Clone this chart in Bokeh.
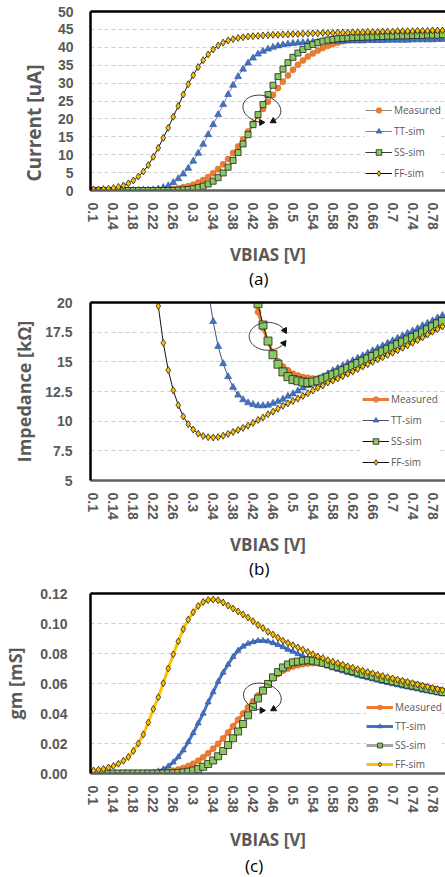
import math
from bokeh.plotting import figure
from bokeh.layouts import column
from bokeh.models import Range1d, FixedTicker, Legend, LegendItem, Title, LinearAxis, Div
from bokeh.embed import file_html
from bokeh.resources import INLINE

nan = float("nan")

# ---------------- data ----------------
vbias = [0.10, 0.11, 0.12, 0.13, 0.14, 0.15, 0.16, 0.17, 0.18, 0.19,
         0.20, 0.21, 0.22, 0.23, 0.24, 0.25, 0.26, 0.27, 0.28, 0.29,
         0.30, 0.31, 0.32, 0.33, 0.34, 0.35, 0.36, 0.37, 0.38, 0.39,
         0.40, 0.41, 0.42, 0.43, 0.44, 0.45, 0.46, 0.47, 0.48, 0.49,
         0.50, 0.51, 0.52, 0.53, 0.54, 0.55, 0.56, 0.57, 0.58, 0.59,
         0.60, 0.61, 0.62, 0.63, 0.64, 0.65, 0.66, 0.67, 0.68, 0.69,
         0.70, 0.71, 0.72, 0.73, 0.74, 0.75, 0.76, 0.77, 0.78, 0.79,
         0.80]

xtick_values = [0.1, 0.14, 0.18, 0.22, 0.26, 0.3, 0.34, 0.38, 0.42, 0.46,
                0.5, 0.54, 0.58, 0.62, 0.66, 0.7, 0.74, 0.78]
xtick_labels = ["0.1", "0.14", "0.18", "0.22", "0.26", "0.3", "0.34", "0.38", "0.42", "0.46",
                "0.5", "0.54", "0.58", "0.62", "0.66", "0.7", "0.74", "0.78"]

series_names = ["Measured", "TT-sim", "SS-sim", "FF-sim"]

# (a) current [uA]
meas_I = [0.0, 0.0, 0.0, 0.0, 0.0, 0.0, 0.0, 0.0, 0.0, 0.0,
          0.1, 0.1, 0.1, 0.2, 0.2, 0.3, 0.4, 0.6, 0.9, 1.2,
          1.6, 2.2, 2.9, 3.8, 4.8, 6.0, 7.3, 8.8, 10.5, 12.3,
          14.3, 16.5, 18.7, 20.8, 22.8, 24.8, 26.7, 28.6, 30.4, 32.1,
          33.7, 35.1, 36.3, 37.4, 38.3, 39.1, 39.8, 40.4, 40.9, 41.3,
          41.7, 42.0, 42.3, 42.5, 42.7, 42.9, 43.0, 43.2, 43.3, 43.4,
          43.5, 43.6, 43.7, 43.8, 43.9, 43.9, 44.0, 44.1, 44.1, 44.2,
          44.3]
tt_I = [0.0, 0.0, 0.0, 0.0, 0.0, 0.0, 0.0, 0.0, 0.0, 0.0,
        0.1, 0.1, 0.2, 0.4, 0.8, 1.3, 2.2, 3.3, 4.6, 6.2,
        8.2, 10.4, 12.9, 15.6, 18.4, 21.2, 24.0, 26.8, 29.4, 31.8,
        33.9, 35.6, 37.0, 38.1, 38.9, 39.5, 40.0, 40.4, 40.7, 40.9,
        41.1, 41.2, 41.3, 41.4, 41.5, 41.5, 41.6, 41.6, 41.7, 41.7,
        41.7, 41.8, 41.8, 41.8, 41.8, 41.9, 41.9, 41.9, 41.9, 42.0,
        42.0, 42.0, 42.0, 42.0, 42.1, 42.1, 42.1, 42.1, 42.1, 42.2,
        42.2]
ss_I = [0.0, 0.0, 0.0, 0.0, 0.0, 0.0, 0.0, 0.0, 0.0, 0.0,
        0.0, 0.0, 0.0, 0.0, 0.0, 0.0, 0.0, 0.1, 0.2, 0.3,
        0.5, 0.8, 1.2, 1.8, 2.6, 3.6, 4.9, 6.5, 8.4, 10.6,
        13.0, 15.6, 18.4, 21.2, 24.0, 26.8, 29.4, 31.8, 33.9, 35.7,
        37.2, 38.4, 39.4, 40.2, 40.8, 41.3, 41.7, 42.0, 42.2, 42.4,
        42.5, 42.6, 42.7, 42.8, 42.8, 42.9, 42.9, 43.0, 43.0, 43.1,
        43.1, 43.2, 43.2, 43.2, 43.3, 43.3, 43.3, 43.4, 43.4, 43.4,
        43.5]
ff_I = [0.3, 0.3, 0.4, 0.5, 0.7, 1.0, 1.4, 2.0, 2.8, 3.9,
        5.3, 7.1, 9.4, 11.9, 14.7, 17.5, 20.6, 23.6, 26.8, 29.7,
        32.2, 34.5, 36.4, 38.0, 39.4, 40.5, 41.3, 41.9, 42.3, 42.6,
        42.8, 43.0, 43.1, 43.2, 43.3, 43.4, 43.5, 43.5, 43.6, 43.6,
        43.7, 43.7, 43.8, 43.8, 43.9, 43.9, 44.0, 44.0, 44.0, 44.1,
        44.1, 44.1, 44.2, 44.2, 44.2, 44.3, 44.3, 44.3, 44.4, 44.4,
        44.4, 44.5, 44.5, 44.5, 44.5, 44.6, 44.6, 44.6, 44.7, 44.7,
        44.7]

# (b) impedance [kOhm]  (nan = off the top of the chart)
meas_Z = [nan] * 32 + [
    20.8, 19.2, 17.85, 16.7, 15.75, 15.05, 14.6, 14.3,
    14.0, 13.85, 13.72, 13.65, 13.6, 13.6, 13.65, 13.75, 13.85, 14.0,
    14.15, 14.35, 14.55, 14.75, 14.95, 15.15, 15.35, 15.55, 15.75, 15.95,
    16.1, 16.3, 16.5, 16.7, 16.9, 17.1, 17.3, 17.5, 17.75, 17.95,
    18.2]
tt_Z = [nan] * 23 + [
    21.0, 18.4, 16.3, 14.85, 13.75, 12.85, 12.2,
    11.8, 11.55, 11.4, 11.3, 11.3, 11.35, 11.5, 11.65, 11.85, 12.1,
    12.3, 12.55, 12.8, 13.0, 13.25, 13.5, 13.75, 14.0, 14.25, 14.46,
    14.67, 14.88, 15.09, 15.3, 15.51, 15.72, 15.93, 16.14, 16.35, 16.56,
    16.77, 16.98, 17.2, 17.4, 17.6, 17.8, 18.05, 18.25, 18.45, 18.7,
    18.9]
ss_Z = [nan] * 32 + [
    22.5, 19.9, 18.1, 16.75, 15.6, 14.8, 14.15, 13.75,
    13.5, 13.4, 13.3, 13.25, 13.3, 13.4, 13.55, 13.7, 13.9, 14.05,
    14.25, 14.45, 14.65, 14.85, 15.05, 15.25, 15.45, 15.65, 15.85, 16.05,
    16.25, 16.45, 16.65, 16.85, 17.05, 17.25, 17.45, 17.7, 17.95, 18.2,
    18.4]
ff_Z = [nan] * 12 + [
    23.3, 19.7, 16.6, 14.3, 12.6, 11.35, 10.4, 9.75,
    9.3, 8.95, 8.75, 8.65, 8.62, 8.66, 8.77, 8.93, 9.09, 9.26,
    9.43, 9.62, 9.85, 10.1, 10.3, 10.58, 10.8, 11.05, 11.3, 11.5,
    11.7, 11.9, 12.12, 12.35, 12.58, 12.82, 13.0, 13.25, 13.42, 13.6,
    13.8, 14.0, 14.18, 14.39, 14.6, 14.8, 15.0, 15.2, 15.38, 15.58,
    15.77, 15.97, 16.18, 16.39, 16.61, 16.83, 17.06, 17.3, 17.54, 17.76,
    17.98]

# (c) gm [mS]
meas_gm = [0.0, 0.0, 0.0, 0.0001, 0.0001, 0.0001, 0.0001, 0.0001, 0.0002, 0.0002,
           0.0002, 0.0003, 0.0004, 0.0006, 0.0009, 0.0013, 0.0019, 0.0027, 0.0037, 0.005,
           0.0065, 0.0085, 0.0108, 0.0135, 0.0165, 0.0198, 0.0234, 0.0273, 0.0315, 0.0358,
           0.040, 0.0441, 0.0481, 0.052, 0.056, 0.0598, 0.0635, 0.0664, 0.0685, 0.070,
           0.0713, 0.0722, 0.0729, 0.0733, 0.0735, 0.0735, 0.0733, 0.0727, 0.0722, 0.0714,
           0.0707, 0.0697, 0.0687, 0.0678, 0.0669, 0.066, 0.0651, 0.0643, 0.0635, 0.0627,
           0.0621, 0.0613, 0.0606, 0.0599, 0.0592, 0.0585, 0.0578, 0.0571, 0.0563, 0.0557,
           0.0549]
tt_gm = [0.0, 0.0, 0.0, 0.0, 0.0, 0.0, 0.0, 0.0, 0.0, 0.0,
         0.0, 0.0003, 0.0007, 0.0015, 0.0028, 0.0048, 0.0075, 0.011, 0.0155, 0.021,
         0.027, 0.0335, 0.040, 0.0475, 0.0543, 0.0613, 0.0673, 0.0727, 0.0778, 0.082,
         0.0847, 0.0866, 0.0877, 0.0885, 0.0885, 0.0881, 0.087, 0.0858, 0.0844, 0.0826,
         0.0813, 0.0797, 0.0781, 0.0769, 0.0755, 0.0741, 0.0727, 0.0714, 0.0702, 0.0692,
         0.0682, 0.0672, 0.0663, 0.0654, 0.0645, 0.0636, 0.0628, 0.062, 0.0612, 0.0604,
         0.0596, 0.0589, 0.0581, 0.0575, 0.0568, 0.0562, 0.0554, 0.0548, 0.0542, 0.0535,
         0.0529]
ss_gm = [0.0, 0.0, 0.0, 0.0, 0.0, 0.0, 0.0, 0.0, 0.0, 0.0,
         0.0, 0.0, 0.0, 0.0, 0.0, 0.0001, 0.0002, 0.0004, 0.0007, 0.0012,
         0.002, 0.003, 0.0045, 0.0063, 0.0087, 0.0115, 0.015, 0.019, 0.0235, 0.028,
         0.033, 0.0388, 0.0444, 0.050, 0.0552, 0.0597, 0.0641, 0.0676, 0.0707, 0.0727,
         0.0741, 0.0746, 0.0752, 0.0755, 0.0752, 0.0746, 0.0738, 0.073, 0.0719, 0.0712,
         0.0702, 0.0692, 0.0683, 0.0673, 0.0664, 0.0656, 0.0647, 0.0639, 0.0631, 0.0623,
         0.0615, 0.0608, 0.0601, 0.0593, 0.0587, 0.058, 0.0573, 0.0565, 0.0557, 0.055,
         0.0543]
ff_gm = [0.002, 0.0025, 0.003, 0.004, 0.005, 0.0065, 0.0085, 0.011, 0.015, 0.020,
         0.026, 0.034, 0.043, 0.0508, 0.0602, 0.070, 0.0794, 0.0881, 0.0962, 0.1026,
         0.1075, 0.1117, 0.1143, 0.1156, 0.116, 0.1155, 0.114, 0.112, 0.110, 0.108,
         0.106, 0.104, 0.1015, 0.099, 0.097, 0.0945, 0.0926, 0.0905, 0.0885, 0.087,
         0.0855, 0.084, 0.0825, 0.081, 0.0795, 0.078, 0.0769, 0.0755, 0.0745, 0.0735,
         0.0725, 0.0714, 0.0705, 0.0695, 0.0685, 0.0676, 0.0667, 0.0658, 0.065, 0.0642,
         0.0634, 0.0626, 0.0618, 0.061, 0.0602, 0.0594, 0.0586, 0.0578, 0.057, 0.0563,
         0.0556]

ya_ticks = [0, 5, 10, 15, 20, 25, 30, 35, 40, 45, 50]
ya_labels = ["0", "5", "10", "15", "20", "25", "30", "35", "40", "45", "50"]
yb_ticks = [5, 7.5, 10, 12.5, 15, 17.5, 20]
yb_labels = ["5", "7.5", "10", "12.5", "15", "17.5", "20"]
yc_ticks = [0.0, 0.02, 0.04, 0.06, 0.08, 0.10, 0.12]
yc_labels = ["0.00", "0.02", "0.04", "0.06", "0.08", "0.10", "0.12"]

# ---------------- styling ----------------
GREY = "#595959"
TICK_FONT = "Liberation Sans"
TITLE_FONT = "Open Sans"
XR = (0.094, 0.806)
FIG_W = 445

ORANGE = "#ED7D31"
BLUE = "#4472C4"
GREEN = "#8BC860"
YELLOW = "#FFC000"

MARKERS = [
    dict(marker="circle", fill_color=ORANGE, line_color="#D8691F", line_width=0.6),
    dict(marker="triangle", fill_color=BLUE, line_color="#2F5597", line_width=0.6),
    dict(marker="square", fill_color=GREEN, line_color="#222222", line_width=0.8),
    dict(marker="diamond", fill_color=YELLOW, line_color="#222222", line_width=0.8),
]


def add_loop(p, ylim, frame_w, frame_h, c, rx, ry, tilt_deg, t0, t1, heads):
    """Curved double-headed arrow drawn around centre c (data units); radii in px."""
    kx = frame_w / (XR[1] - XR[0])
    ky = frame_h / (ylim[1] - ylim[0])
    ph = math.radians(tilt_deg)
    n = 48
    xs, ys = [], []
    for i in range(n + 1):
        t = math.radians(t0 + (t1 - t0) * i / n)
        dx = rx * math.cos(t) * math.cos(ph) - ry * math.sin(t) * math.sin(ph)
        dy = rx * math.cos(t) * math.sin(ph) + ry * math.sin(t) * math.cos(ph)
        xs.append(c[0] + dx / kx)
        ys.append(c[1] + dy / ky)
    p.line(xs, ys, line_color="#3A3A3A", line_width=1)
    ends = [(xs[-1], ys[-1]), (xs[0], ys[0])]
    for (hx, hy), dirdeg in zip(ends, heads):
        p.scatter(x=[hx], y=[hy], marker="triangle", size=6,
                  angle=math.radians(dirdeg - 90),
                  fill_color="#111111", line_color="#111111")


def make_panel(height, top, left, bottom, ylim, yticks, ylabels, lab_standoff,
               ytitle, ytitle_size, ytitle_mode, ytitle_pos, vb_standoff,
               ys, lines, sizes, legend_loc, leg_h, leg_sp, loop):
    p = figure(width=FIG_W, height=height, output_backend="svg", toolbar_location=None,
               x_range=Range1d(*XR), y_range=Range1d(*ylim),
               min_border_top=top, min_border_left=left, min_border_right=0,
               min_border_bottom=bottom)
    p.outline_line_color = None
    p.background_fill_color = "white"
    p.border_fill_color = "white"
    p.xgrid.visible = False
    p.ygrid.grid_line_color = "#D0D0D0"
    p.ygrid.grid_line_dash = "4 3"
    p.ygrid.grid_line_width = 1

    xa = p.xaxis[0]
    xa.ticker = FixedTicker(ticks=xtick_values)
    xa.major_label_overrides = dict(zip(xtick_values, xtick_labels))
    xa.major_label_orientation = "vertical"
    xa.major_tick_line_color = None
    xa.minor_tick_line_color = None
    xa.major_label_standoff = 6
    xa.axis_line_color = "#5F5F5F"
    xa.axis_line_width = 2.5
    xa.major_label_text_font = TICK_FONT
    xa.major_label_text_font_style = "bold"
    xa.major_label_text_font_size = "14px"
    xa.major_label_text_color = GREY
    xa.axis_label = "VBIAS [V]"
    xa.axis_label_standoff = vb_standoff
    xa.axis_label_text_font = TITLE_FONT
    xa.axis_label_text_font_style = "bold"
    xa.axis_label_text_font_size = "17px"
    xa.axis_label_text_color = GREY

    ya = p.yaxis[0]
    ya.ticker = FixedTicker(ticks=yticks)
    ya.major_label_overrides = dict(zip(yticks, ylabels))
    ya.major_tick_line_color = None
    ya.minor_tick_line_color = None
    ya.major_label_standoff = lab_standoff
    ya.axis_line_color = "black"
    ya.axis_line_width = 2.5
    ya.major_label_text_font = TICK_FONT
    ya.major_label_text_font_style = "bold"
    ya.major_label_text_font_size = "14px"
    ya.major_label_text_color = GREY
    p.ygrid.ticker = FixedTicker(ticks=yticks)

    topax = LinearAxis(ticker=FixedTicker(ticks=[]), major_tick_line_color=None,
                       minor_tick_line_color=None, major_label_text_font_size="0px",
                       axis_line_color="black", axis_line_width=2.5)
    p.add_layout(topax, "above")

    if ytitle_mode == "title":
        p.add_layout(Title(text=ytitle, align="left", offset=ytitle_pos[0],
                           standoff=ytitle_pos[1],
                           text_font=TITLE_FONT, text_font_style="bold",
                           text_font_size=ytitle_size, text_color=GREY), "left")
    else:
        ya.axis_label = ytitle
        ya.axis_label_standoff = ytitle_pos[1]
        ya.axis_label_text_font = TITLE_FONT
        ya.axis_label_text_font_style = "bold"
        ya.axis_label_text_font_size = ytitle_size
        ya.axis_label_text_color = GREY

    items = []
    for name, yv, ln, mk, sz in zip(series_names, ys, lines, MARKERS, sizes):
        r_line = p.line(vbias, yv, line_color=ln[0], line_width=ln[1])
        r_pts = p.scatter(vbias, yv, size=sz, **mk)
        items.append(LegendItem(label=name, renderers=[r_line, r_pts]))

    frame_w = FIG_W - left
    frame_h = height - top - bottom
    add_loop(p, ylim, frame_w, frame_h, *loop)

    leg = Legend(items=items, location=legend_loc, orientation="vertical",
                 background_fill_color="white", background_fill_alpha=1.0,
                 border_line_color=None, padding=2, margin=0, spacing=leg_sp,
                 glyph_width=27, glyph_height=leg_h, label_height=leg_h,
                 label_standoff=2, label_text_font=TITLE_FONT,
                 label_text_font_size="10px", label_text_color=GREY)
    p.add_layout(leg)
    return p


def caption_div(text, height, left_px, top_px):
    html = ('<div style="margin-left:%dpx; padding-top:%dpx; font-family:\'Open Sans\'; '
            'font-size:17px; line-height:22px; color:#000000; white-space:nowrap;">%s</div>'
            % (left_px, top_px, text))
    return Div(text=html, width=FIG_W, height=height, margin=(0, 0, 0, 0))


pa = make_panel(268, 11, 84, 77, (0, 50), ya_ticks, ya_labels, 11,
                "Current [uA]", "19px", "title", (9, 16), 10,
                [meas_I, tt_I, ss_I, ff_I],
                [("#8A8A8A", 1), ("#7A8699", 1), ("#3A3A3A", 1), ("#111111", 1)],
                [6, 7, 6, 7], (275, 10), 14, 7,
                ((0.4377, 22.8), 19.5, 13.5, -12, -45, 277, [0, 90]))
pb = make_panel(268, 12, 83, 77, (5, 20), yb_ticks, yb_labels, 12,
                "Impedance [kΩ]", "18px", "axis", (0, 6), 10,
                [meas_Z, tt_Z, ss_Z, ff_Z],
                [(ORANGE, 3), ("#44546A", 1), ("#111111", 1), ("#111111", 1)],
                [6, 7, 8, 7], (272, 11), 14, 7,
                ((0.4496, 17.15), 19, 14, 0, 25, 330, [52, -60]))
pc = make_panel(268, 8, 82, 79, (0, 0.12), yc_ticks, yc_labels, 17,
                "gm [mS]", "18px", "axis", (0, 10), 12,
                [meas_gm, tt_gm, ss_gm, ff_gm],
                [(ORANGE, 3), (BLUE, 3), ("#A5A5A5", 3), (YELLOW, 3)],
                [6, 6, 7, 7], (276, 2), 12, 5,
                ((0.4387, 0.0511), 19.5, 13.5, -12, -45, 277, [0, 90]))

cap_a = caption_div("(a)", 22, 249, 0)
cap_b = caption_div("(b)", 27, 249, 0)
cap_c = caption_div("(c)", 24, 245, 2)

layout = column(pa, cap_a, pb, cap_b, pc, cap_c, spacing=0)
open("out.html", "w").write(file_html(layout, INLINE))
